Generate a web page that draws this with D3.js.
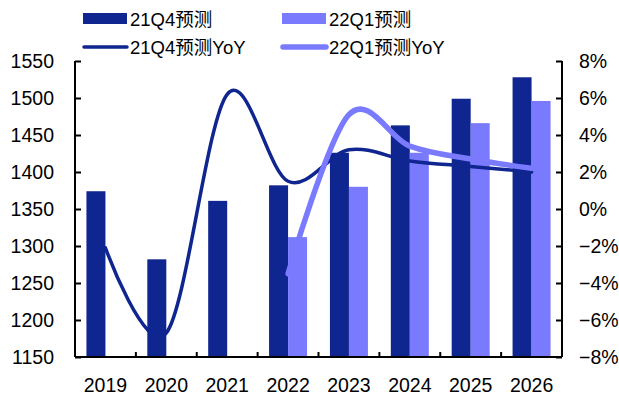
<!DOCTYPE html>
<html><head><meta charset="utf-8">
<script src="https://cdn.jsdelivr.net/npm/d3@7"></script>
<style>
html,body{margin:0;padding:0;background:#fff;}
text{font-family:"Liberation Sans",Arial,"Noto Sans CJK SC",sans-serif;fill:#000;}
</style></head>
<body><svg id="c" width="619" height="396"></svg>
<script>
const years = ["2019","2020","2021","2022","2023","2024","2025","2026"];
const q4Forecast = [1374,1282,1361,1382,1426,1463,1499,1528];
const q1Forecast = [null,null,null,1312,1380,1426,1466,1496];
const q4YoY = [-0.021,-0.067,0.062,0.015,0.032,0.026,0.023,0.020];
const q1YoY = [null,null,null,-0.035,0.051,0.034,0.027,0.022];
const leftTicks = [1150,1200,1250,1300,1350,1400,1450,1500,1550];
const rightTicks = [-0.08,-0.06,-0.04,-0.02,0,0.02,0.04,0.06,0.08];
const seriesNames = ["21Q4预测","22Q1预测","21Q4预测YoY","22Q1预测YoY"];

const C_DARK = "#0f258f", C_LIGHT = "#7a7aff";
const svg = d3.select("#c");
const L = 75, R = 562, T = 61, B = 357;

const x = d3.scaleBand().domain(years).range([L, R]).padding(0);
const groupW = 38;
const xs = d3.scaleBand().domain(["q4","q1"]).range([(x.bandwidth()-groupW)/2, (x.bandwidth()+groupW)/2]).padding(0);
const yL = d3.scaleLinear().domain([1150,1550]).range([B, T]);
const yR = d3.scaleLinear().domain([-0.08,0.08]).range([B, T]);

// bars
const bars = [["q4", q4Forecast, C_DARK], ["q1", q1Forecast, C_LIGHT]];
bars.forEach(([k, vals, col]) => {
  svg.append("g").selectAll("rect")
    .data(years.map((y,i)=>({y, v: vals[i]})).filter(d=>d.v!=null))
    .join("rect")
    .attr("x", d => x(d.y) + xs(k))
    .attr("width", xs.bandwidth())
    .attr("y", d => yL(d.v))
    .attr("height", d => yL(1150) - yL(d.v))
    .attr("fill", col);
});

// axes
const fontSize = "19.5px";
const gL = svg.append("g").attr("transform", `translate(${L},0)`)
  .call(d3.axisLeft(yL).tickValues(leftTicks).tickFormat(d3.format("d")).tickSizeInner(-6).tickSizeOuter(0).tickPadding(21));
const gR = svg.append("g").attr("transform", `translate(${R},0)`)
  .call(d3.axisRight(yR).tickValues(rightTicks).tickFormat(d3.format(".0%")).tickSizeInner(-6).tickSizeOuter(0).tickPadding(17));
const gB = svg.append("g").attr("transform", `translate(0,${B})`)
  .call(d3.axisBottom(x).tickSize(0).tickPadding(21));
// category boundary ticks on x axis
svg.append("g").selectAll("line").data(years.concat(["__end"]))
  .join("line")
  .attr("x1", (d,i) => i < years.length ? x(d) : R)
  .attr("x2", (d,i) => i < years.length ? x(d) : R)
  .attr("y1", B).attr("y2", B-5)
  .attr("stroke", "#000").attr("stroke-width", 2);

[gL, gR, gB].forEach(g => {
  g.selectAll(".domain").attr("stroke", "#000").attr("stroke-width", 2);
  g.selectAll(".tick line").attr("stroke", "#000").attr("stroke-width", 2);
  g.selectAll("text").attr("font-size", fontSize).attr("font-family", null).attr("fill", "#000");
});
gR.selectAll("text").attr("text-anchor", "start");
gL.select(".domain").attr("d", `M0,${T}V${B}`);
gR.select(".domain").attr("d", `M0,${T}V${B}`);
gB.select(".domain").attr("d", `M${L},0H${R}`);

// lines
const line = d3.line()
  .defined(d => d.v != null)
  .x(d => x(d.y) + x.bandwidth()/2)
  .y(d => yR(d.v))
  .curve(d3.curveCardinal.tension(0));
svg.append("path")
  .datum(years.map((y,i)=>({y, v: q4YoY[i]})))
  .attr("d", line).attr("fill", "none").attr("stroke", C_DARK).attr("stroke-width", 3.5)
  .attr("stroke-linecap", "round");
svg.append("path")
  .datum(years.map((y,i)=>({y, v: q1YoY[i]})).filter(d=>d.v!=null))
  .attr("d", line).attr("fill", "none").attr("stroke", C_LIGHT).attr("stroke-width", 5.5)
  .attr("stroke-linecap", "round");

// legend
const lg = svg.append("g");
const legItems = [
  {name: seriesNames[0], type: "rect", col: C_DARK, x: 83, y: 19},
  {name: seriesNames[1], type: "rect", col: C_LIGHT, x: 282, y: 19},
  {name: seriesNames[2], type: "line", col: C_DARK, x: 83, y: 47, w: 3.5},
  {name: seriesNames[3], type: "line", col: C_LIGHT, x: 282, y: 47, w: 5.5}
];
legItems.forEach(it => {
  if (it.type === "rect") {
    lg.append("rect").attr("x", it.x).attr("y", it.y - 6).attr("width", 44).attr("height", 11).attr("fill", it.col);
  } else {
    lg.append("line").attr("x1", it.x+1).attr("x2", it.x + 44).attr("y1", it.y).attr("y2", it.y)
      .attr("stroke", it.col).attr("stroke-width", it.w).attr("stroke-linecap", "round");
  }
  lg.append("text").attr("x", it.x + 47).attr("y", it.y + 7).attr("font-size", "18.5px").attr("fill", "#222").text(it.name);
});
</script></body></html>
